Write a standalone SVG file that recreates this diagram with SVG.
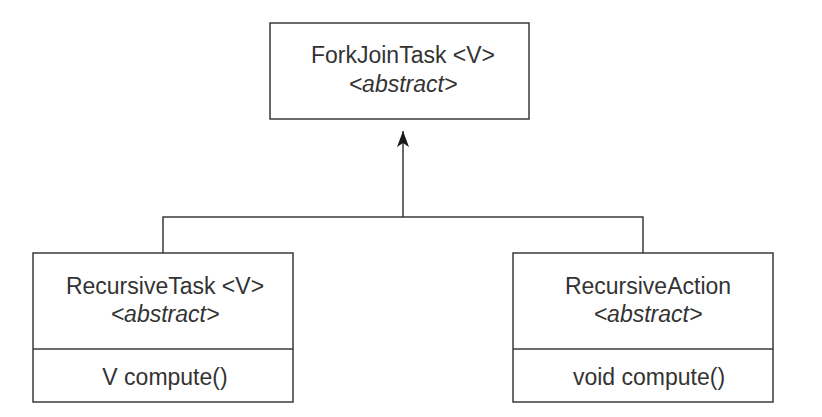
<svg xmlns="http://www.w3.org/2000/svg" width="822" height="417" viewBox="0 0 822 417">
<defs>
<style>
.box{fill:#fff;stroke:#3a3a3a;stroke-width:1.5}
.t{font-family:"Liberation Sans",Arial,sans-serif;font-size:23px;fill:#333;text-anchor:middle}
.i{font-style:italic}
.c{fill:none;stroke:#3a3a3a;stroke-width:1.5}
</style>
<marker id="arr" viewBox="0 0 16 12" refX="16" refY="6" markerWidth="16" markerHeight="12" markerUnits="userSpaceOnUse" orient="auto">
<path d="M0,0 L16,6 L0,12 L4,6 Z" fill="#1a1a1a"/>
</marker>
</defs>
<rect width="822" height="417" fill="#fff"/>
<g id="connectors">
<path class="c" d="M163,253 V217 H643 V253"/>
<path class="c" d="M403,217 V131" marker-end="url(#arr)"/>
</g>
<g id="forkjointask">
<rect class="box" x="270" y="23" width="259" height="96"/>
<text class="t" x="403" y="63">ForkJoinTask &lt;V&gt;</text>
<text class="t i" x="403" y="92">&lt;abstract&gt;</text>
</g>
<g id="recursivetask">
<rect class="box" x="33" y="253" width="260" height="149"/>
<line class="c" x1="33" y1="349" x2="293" y2="349"/>
<text class="t" x="165" y="294">RecursiveTask &lt;V&gt;</text>
<text class="t i" x="165" y="322">&lt;abstract&gt;</text>
<text class="t" x="165" y="385">V compute()</text>
</g>
<g id="recursiveaction">
<rect class="box" x="513" y="253" width="260" height="149"/>
<line class="c" x1="513" y1="349" x2="773" y2="349"/>
<text class="t" x="648" y="294">RecursiveAction</text>
<text class="t i" x="648" y="322">&lt;abstract&gt;</text>
<text class="t" x="649" y="385">void compute()</text>
</g>
</svg>
